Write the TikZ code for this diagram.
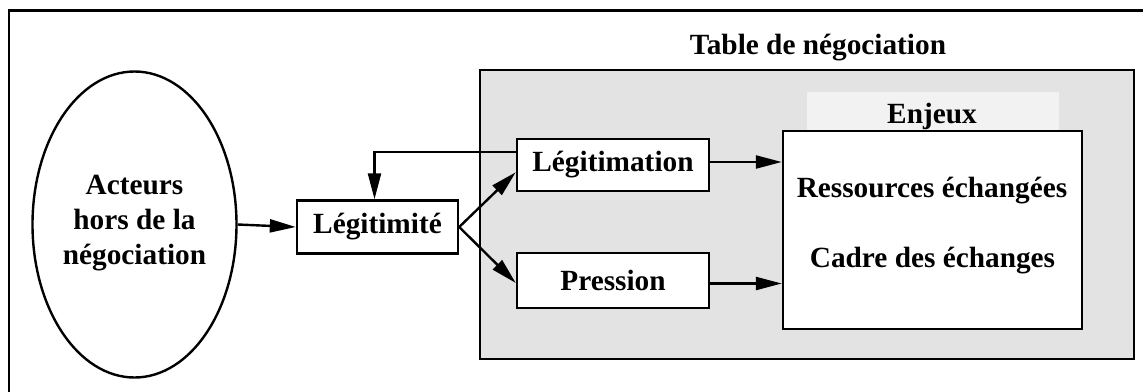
\documentclass[tikz,border=0pt]{standalone}
\usepackage{fontspec}
\setmainfont{Liberation Serif}
\usetikzlibrary{arrows.meta,shapes.geometric,calc}
\definecolor{tablegray}{HTML}{E3E3E3}
\definecolor{enjgray}{HTML}{F2F2F2}
\begin{document}
\begin{tikzpicture}[x=1pt,y=-1pt,
  lw/.style={line width=2.4pt},
  box/.style={draw,lw,fill=white,inner sep=0pt,font=\bfseries\fontsize{29.3}{35}\selectfont},
  arr/.style={lw,-{Triangle[length=26pt,width=13pt]}},
  lbl/.style={inner sep=0pt,font=\bfseries\fontsize{29.3}{35}\selectfont,align=center}]
\useasboundingbox (0,0) rectangle (1143,391);
% outer frame (only top and left edges visible)
\draw[lw] (9,400) -- (9,10.5) -- (1150,10.5);
% table de negociation
\node[lbl,anchor=base] (ttl) at (818,54) {Table de négociation};
\node[draw,lw,fill=tablegray,minimum width=654pt,minimum height=289pt,inner sep=0pt] (tbl) at (807,214.5) {};
\node[fill=enjgray,minimum width=252pt,minimum height=40pt,inner sep=0pt] (enjbg) at (933,112) {};
\node[lbl,anchor=base] (enjl) at (932,123) {Enjeux};
\node[box,minimum width=299pt,minimum height=198pt] (enj) at (932.5,230) {};
\node[lbl,anchor=base] (res) at (932,197) {Ressources échangées};
\node[lbl,anchor=base] (cad) at (932.5,267) {Cadre des échanges};
% ellipse
\node[draw,lw,ellipse,minimum width=204pt,minimum height=306pt,inner sep=0pt] (act) at (134.5,224.5) {};
\node[lbl] (actl) at (134.5,223) {Acteurs\\hors de la\\négociation};
% boxes
\node[box,minimum width=161pt,minimum height=53pt] (lgt) at (377.5,227) {Légitimité};
\node[box,minimum width=192pt,minimum height=52pt] (lgm) at (613,165) {Légitimation};
\node[box,minimum width=192pt,minimum height=55pt] (prs) at (613,280.5) {Pression};
% connectors
\draw[arr] (act.east) -- (lgt.west);
\draw[arr] (lgt.east) -- ([yshift=20pt]lgm.south west);
\draw[arr] (lgt.east) -- ([yshift=-2.5pt]prs.west);
\draw[arr] ([yshift=13pt]lgm.west) -| ([xshift=-3pt]lgt.north);
\draw[arr] ([yshift=3pt]lgm.east) -- ([yshift=3pt]lgm.east -| enj.west);
\draw[arr] ([yshift=-3pt]prs.east) -- ([yshift=-3pt]prs.east -| enj.west);
\end{tikzpicture}
\end{document}
